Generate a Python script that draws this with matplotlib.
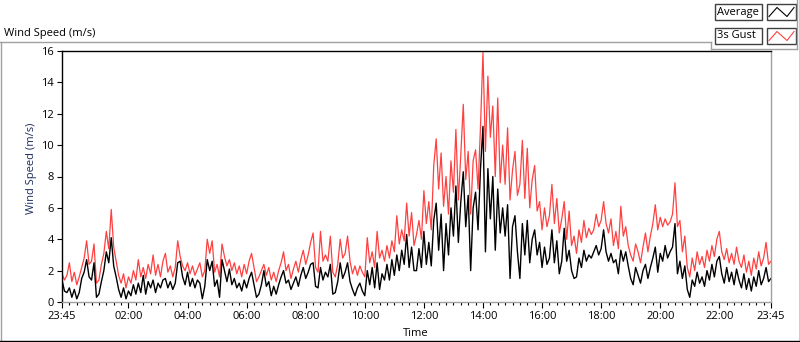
import numpy as np
import matplotlib.pyplot as plt
from matplotlib.patches import Rectangle
from matplotlib.lines import Line2D

plt.rcParams['font.family'] = ['Open Sans', 'DejaVu Sans']

# 5 minute samples from 23:45 to 23:45 next day (one row per hour)
gust = [
    1.8, 1.4, 1.7, 2.5, 1.3, 1.9, 1.1, 1.6, 2.2, 2.8, 3.9, 2.4,
    2.6, 3.7, 1.2, 1.4, 2.4, 3.1, 4.5, 3.4, 5.9, 3.5, 2.6, 1.7,
    1.2, 1.8, 0.9, 1.6, 1.2, 2.0, 1.4, 2.7, 1.6, 2.2, 1.5, 2.4,
    1.8, 3.0, 1.7, 2.4, 1.6, 2.6, 3.1, 1.9, 2.3, 1.6, 2.2, 3.9,
    2.9, 2.3, 2.0, 2.5, 1.8, 2.3, 1.7, 2.1, 2.5, 1.6, 2.0, 4.0,
    3.1, 3.9, 1.9, 2.4, 1.6, 3.7, 2.9, 2.3, 2.7, 2.0, 2.5, 1.8,
    2.3, 1.6, 2.4, 1.8, 2.6, 3.1, 2.2, 1.3, 1.6, 2.0, 2.4, 1.7,
    2.2, 1.4, 1.9, 1.3, 2.0, 2.5, 3.2, 2.0, 2.4, 1.5, 2.1, 2.6,
    1.9, 2.7, 3.3, 2.4, 3.0, 3.8, 4.4, 2.2, 1.9, 4.5, 2.6, 3.0,
    2.6, 4.2, 1.9, 1.6, 2.4, 4.0, 2.8, 3.1, 4.2, 2.6, 1.8, 2.3,
    1.7, 2.3, 1.9, 1.6, 4.1, 2.5, 3.2, 2.2, 4.5, 2.8, 3.3, 2.6,
    3.6, 2.8, 3.9, 3.2, 5.5, 3.7, 4.6, 3.9, 6.3, 4.2, 5.7, 3.6,
    4.3, 5.2, 4.0, 7.1, 5.0, 6.4, 4.6, 8.7, 10.4, 7.2, 9.5, 6.1,
    8.0, 5.6, 9.0, 7.0, 11.0, 6.5, 9.4, 12.6, 7.8, 9.6, 5.6, 9.0,
    9.7, 7.2, 11.2, 15.9, 9.6, 14.4, 10.5, 12.5, 8.0, 13.0, 7.6, 10.0,
    7.5, 11.1, 6.5, 8.4, 9.6, 6.8, 7.5, 10.3, 6.6, 9.8, 6.0, 7.8,
    8.7, 5.8, 6.4, 4.6, 6.0, 4.8, 5.5, 7.5, 5.0, 6.6, 4.4, 5.3,
    6.4, 4.0, 5.8, 3.6, 4.2, 3.1, 4.6, 3.8, 5.2, 4.1, 4.7, 4.3,
    4.6, 5.6, 4.8, 5.2, 6.4, 5.0, 4.4, 5.3, 3.6, 4.5, 3.4, 6.1,
    4.2, 4.8, 3.6, 3.0, 2.6, 3.7, 3.2, 2.5, 3.5, 4.4, 3.2, 4.2,
    5.0, 6.2, 4.6, 5.4, 4.8, 5.3, 4.9, 5.1, 5.6, 7.6, 4.8, 5.2,
    3.2, 4.2, 2.2, 1.6, 2.8, 2.0, 3.2, 2.4, 2.9, 2.2, 3.3, 2.6,
    3.6, 2.9, 4.0, 4.5, 3.2, 2.7, 3.4, 2.5, 3.1, 2.4, 3.5, 2.6,
    2.2, 3.0, 1.9, 2.6, 1.7, 2.8, 2.1, 3.2, 2.3, 2.8, 3.8, 2.4,
    2.6,
]

average = [
    1.4, 0.7, 0.6, 0.9, 0.3, 0.8, 0.2, 0.6, 1.5, 1.9, 2.7, 1.6,
    1.4, 2.5, 0.3, 0.5, 1.3, 2.0, 3.2, 2.5, 4.1, 2.3, 1.6, 0.8,
    0.3, 0.9, 0.2, 0.7, 0.4, 1.1, 0.5, 1.2, 0.6, 1.7, 0.5, 1.3,
    0.9, 1.4, 0.6, 1.2, 0.9, 1.4, 1.5, 0.9, 1.3, 0.8, 1.2, 2.5,
    2.6, 1.6, 1.1, 1.9, 1.0, 1.5, 0.9, 1.4, 1.2, 0.2, 1.0, 2.7,
    2.0, 2.6, 1.0, 1.4, 0.3, 2.7, 2.0, 1.3, 2.1, 1.1, 1.5, 0.9,
    1.2, 0.7, 1.4, 0.9, 1.5, 1.9, 1.1, 0.3, 0.5, 1.1, 2.0, 1.0,
    1.3, 0.4, 1.0, 0.5, 1.1, 1.6, 2.0, 1.2, 1.4, 0.8, 1.2, 1.6,
    1.0, 1.7, 2.2, 1.5, 1.9, 2.4, 2.5, 1.0, 0.9, 2.2, 1.4, 1.9,
    1.6, 2.4, 0.5, 0.6, 1.3, 2.5, 1.5, 1.9, 2.5, 1.3, 0.8, 0.4,
    0.9, 1.2, 0.7, 0.4, 2.0, 1.1, 2.2, 0.9, 2.5, 0.8, 1.8, 1.4,
    2.4, 1.4, 2.7, 1.7, 3.0, 2.0, 3.3, 2.4, 4.3, 2.2, 3.5, 2.0,
    2.0, 3.4, 2.2, 4.5, 2.4, 3.8, 2.3, 5.2, 6.3, 3.3, 5.6, 2.0,
    5.0, 3.0, 6.0, 4.2, 7.4, 3.8, 6.4, 8.3, 4.8, 6.8, 2.0, 6.0,
    7.0, 4.6, 8.5, 11.2, 3.2, 8.5, 5.3, 8.0, 3.3, 7.2, 4.4, 6.0,
    4.2, 6.2, 1.5, 4.8, 5.5, 3.2, 1.5, 5.0, 3.0, 5.2, 2.5, 4.0,
    4.6, 3.0, 3.8, 2.2, 3.5, 2.4, 2.8, 4.6, 2.5, 3.9, 1.8, 2.6,
    4.7, 2.6, 3.3, 2.0, 1.5, 1.6, 2.8, 2.2, 3.3, 2.6, 3.0, 2.8,
    3.2, 3.6, 3.0, 3.4, 4.6, 3.2, 2.6, 3.1, 2.5, 2.7, 1.8, 3.3,
    2.6, 3.2, 2.3, 1.5, 1.1, 2.2, 1.7, 1.2, 2.0, 2.4, 1.5, 2.2,
    2.8, 3.5, 1.9, 3.1, 2.6, 3.6, 2.8, 3.2, 3.5, 5.0, 1.8, 2.6,
    1.5, 2.3, 0.8, 0.3, 1.4, 1.0, 1.9, 1.2, 1.6, 1.0, 2.0, 1.4,
    2.4, 1.6, 2.6, 2.9, 1.8, 1.2, 2.2, 1.3, 1.9, 1.1, 2.1, 1.4,
    0.9, 1.8, 0.8, 1.5, 0.7, 1.6, 1.0, 2.0, 1.1, 1.5, 2.2, 1.3,
    1.5,
]

tick_labels = ['23:45', '02:00', '04:00', '06:00', '08:00', '10:00', '12:00',
               '14:00', '16:00', '18:00', '20:00', '22:00', '23:45']
y_ticks = [0, 2, 4, 6, 8, 10, 12, 14, 16]

hours = np.arange(len(gust)) * 5 / 60.0

W, H = 800, 342
fig = plt.figure(figsize=(8, 3.42), dpi=100)
fig.patch.set_facecolor('white')

def fx(px):
    return px / W

def fy(py):
    return 1 - py / H

ax = fig.add_axes([fx(62), fy(302), fx(771) - fx(62), fy(51) - fy(302)])
ax.plot(hours, gust, color='#ff4040', lw=0.9)
ax.plot(hours, average, color='black', lw=1.0)
ax.set_xlim(0, 24)
ax.set_ylim(0, 16)

xt = [0] + [h + 0.25 for h in range(2, 24, 2)] + [24]
ax.set_xticks(xt)
ax.set_xticklabels(tick_labels)
ax.set_xticks(np.arange(0, 24.01, 0.25), minor=True)
ax.set_yticks(y_ticks)
ax.tick_params(axis='x', which='major', length=4.3, width=0.8, pad=2.5, labelsize=8)
ax.tick_params(axis='x', which='minor', length=2.5, width=0.8)
ax.tick_params(axis='y', length=3.6, width=0.8, pad=2, labelsize=8)

for s in ['top', 'left']:
    ax.spines[s].set_color('black')
    ax.spines[s].set_linewidth(1.0)
for s in ['bottom', 'right']:
    ax.spines[s].set_color('#a0a0a0')
    ax.spines[s].set_linewidth(1.0)

# titles
fig.text(fx(4), fy(36), 'Wind Speed (m/s)', fontsize=8, va='baseline', ha='left')
fig.text(fx(31.5), fy(168), 'Wind Speed (m/s)', fontsize=8, rotation=90,
         va='center', ha='center', color='#1c2c5c')
fig.text(fx(416), fy(334), 'Time', fontsize=8, va='center', ha='center')

# outer frame
def seg(x0, y0, x1, y1, c):
    fig.add_artist(Line2D([fx(x0), fx(x1)], [fy(y0), fy(y1)], color=c, lw=1.0))

seg(0, 42, 711, 42, '#a0a0a0')
seg(0.5, 42, 0.5, 341, '#a0a0a0')
seg(0, 340.5, 800, 340.5, 'black')
seg(799.5, 0, 799.5, 341, 'black')
seg(711, 42, 711, 48.5, '#a0a0a0')
seg(711, 48.5, 797, 48.5, '#a0a0a0')
seg(797, 0, 797, 48.5, '#a0a0a0')

# legend
legend_names = ['Average', '3s Gust']
legend_colors = ['black', '#ff4040']
for i, (name, col) in enumerate(zip(legend_names, legend_colors)):
    top = 3.5 + i * 24
    fig.add_artist(Rectangle((fx(715), fy(top + 16)), fx(762) - fx(715), 16 / H,
                             transform=fig.transFigure, facecolor='white',
                             edgecolor='#404040', lw=1.0))
    fig.text(fx(717), fy(top + 8.5), name, fontsize=8, va='center', ha='left')
    fig.add_artist(Rectangle((fx(767), fy(top + 16)), fx(796) - fx(767), 16 / H,
                             transform=fig.transFigure, facecolor='white',
                             edgecolor='#404040', lw=1.0))
    zx = [769, 777, 787, 794]
    zy = [top + 13, top + 4, top + 13, top + 4]
    fig.add_artist(Line2D([fx(v) for v in zx], [fy(v) for v in zy], color=col, lw=0.8))

fig.savefig('out.png', dpi=100)
